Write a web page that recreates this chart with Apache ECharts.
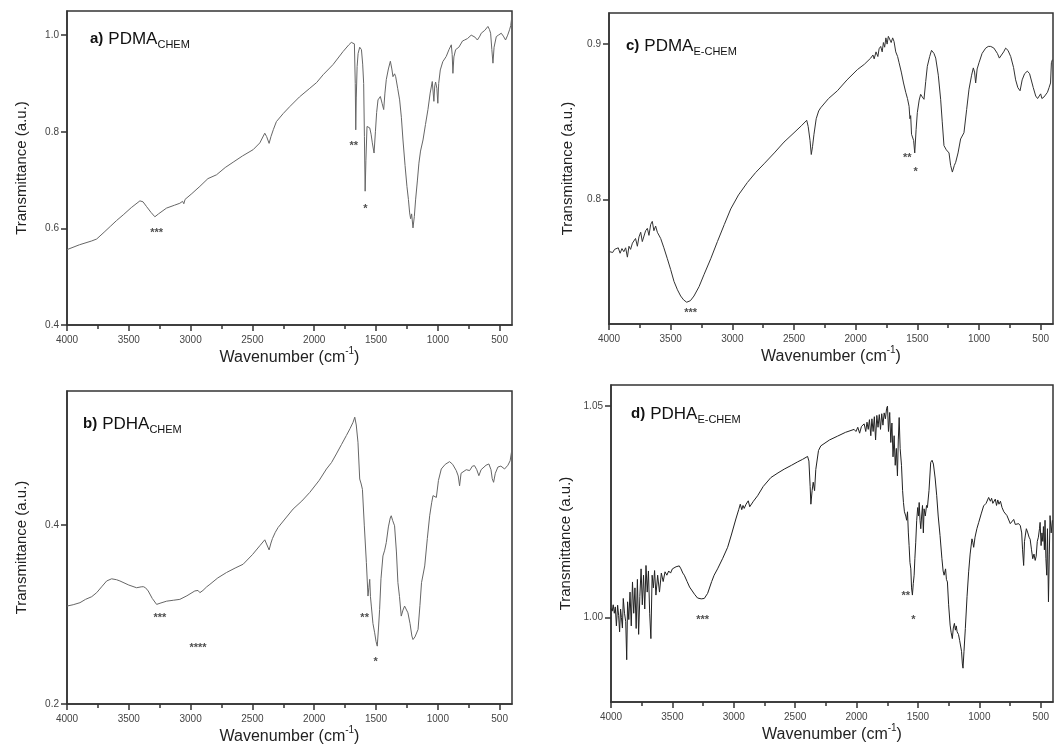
<!DOCTYPE html>
<html><head><meta charset="utf-8">
<script src="https://cdn.jsdelivr.net/npm/echarts@6/dist/echarts.min.js"></script>
<style>html,body{margin:0;padding:0;background:#fff}#c{width:1062px;height:752px}</style>
</head><body><div id="c"></div>
<script>
// ---------- tick values ----------
const xMajorTicks = [4000, 3500, 3000, 2500, 2000, 1500, 1000, 500];
const xMinorTicks = [3750, 3250, 2750, 2250, 1750, 1250, 750];
const aYTicks = [0.4, 0.6, 0.8, 1.0];
const bYTicks = [0.2, 0.4];
const cYTicks = [0.8, 0.9];
const dYTicks = [1.00, 1.05];

// ---------- panel a) PDMA CHEM ----------
const aWave = [4000,3900,3800,3760,3700,3650,3600,3545,3480,3410,3385,3356,3320,3289,3260,3195,3130,3087,3065,3055,3045,2990,2925,2860,2790,2720,2656,2580,2494,2440,2400,2385,2365,2350,2330,2306,2250,2198,2120,2036,1980,1928,1848,1767,1720,1700,1685,1675,1668,1664,1660,1653,1645,1632,1618,1608,1600,1594,1588,1582,1573,1560,1551,1540,1530,1516,1505,1495,1484,1465,1450,1438,1428,1417,1400,1384,1372,1363,1350,1341,1325,1309,1295,1282,1265,1250,1238,1228,1220,1212,1201,1190,1180,1165,1153,1140,1120,1100,1080,1062,1045,1040,1032,1025,1018,1008,1000,993,980,960,932,910,891,884,878,870,856,830,800,783,760,730,700,680,668,660,649,620,595,583,573,563,554,545,527,510,487,470,452,435,420,410,401];
const aTrans = [0.556,0.566,0.574,0.578,0.592,0.604,0.616,0.628,0.643,0.657,0.655,0.645,0.633,0.624,0.630,0.642,0.648,0.652,0.656,0.651,0.660,0.672,0.687,0.703,0.711,0.726,0.737,0.750,0.763,0.777,0.797,0.790,0.776,0.790,0.805,0.821,0.838,0.852,0.872,0.890,0.902,0.918,0.939,0.966,0.980,0.985,0.988,0.982,0.900,0.804,0.870,0.935,0.962,0.975,0.970,0.940,0.900,0.790,0.677,0.740,0.811,0.815,0.808,0.795,0.777,0.756,0.800,0.840,0.866,0.873,0.858,0.846,0.880,0.908,0.930,0.946,0.930,0.914,0.920,0.914,0.890,0.866,0.830,0.783,0.730,0.687,0.660,0.632,0.620,0.630,0.601,0.625,0.659,0.700,0.735,0.760,0.783,0.815,0.846,0.880,0.904,0.900,0.863,0.895,0.903,0.890,0.859,0.900,0.928,0.945,0.956,0.970,0.980,0.960,0.921,0.955,0.970,0.975,0.988,0.990,0.993,1.000,0.996,0.990,0.987,0.998,1.004,1.010,1.018,1.012,1.004,0.970,0.942,0.975,0.997,1.000,1.004,0.998,0.990,1.000,1.011,1.020,1.039];
const aNoteWave = [3275, 1680, 1586];
const aNoteTrans = [0.597, 0.777, 0.647];
const aNoteText = ['***', '**', '*'];

// ---------- panel b) PDHA CHEM ----------
const bWave = [4000,3950,3895,3850,3800,3760,3720,3679,3639,3600,3572,3500,3437,3400,3383,3365,3343,3310,3275,3240,3194,3140,3087,3030,2966,2940,2925,2900,2870,2844,2780,2710,2640,2575,2500,2440,2400,2385,2365,2350,2338,2315,2292,2230,2171,2100,2036,1960,1901,1860,1821,1780,1740,1710,1686,1672,1660,1646,1632,1620,1610,1595,1578,1565,1558,1551,1545,1538,1525,1511,1500,1490,1480,1471,1460,1444,1430,1417,1400,1385,1377,1365,1350,1335,1323,1310,1296,1282,1269,1255,1242,1225,1210,1201,1185,1160,1145,1132,1106,1085,1066,1050,1039,1025,1012,995,972,940,905,880,851,835,824,812,797,770,743,720,703,685,668,650,635,610,587,570,560,549,535,514,490,460,445,433,415,401];
const bTrans = [0.3095,0.311,0.3133,0.317,0.320,0.3245,0.331,0.3376,0.340,0.339,0.3376,0.333,0.330,0.331,0.3312,0.330,0.3264,0.318,0.3114,0.313,0.315,0.316,0.317,0.321,0.3264,0.327,0.3245,0.327,0.331,0.3338,0.341,0.347,0.352,0.3563,0.367,0.377,0.3836,0.382,0.3723,0.380,0.385,0.392,0.3974,0.408,0.418,0.427,0.4366,0.450,0.4628,0.470,0.4796,0.490,0.5002,0.508,0.515,0.5207,0.512,0.4927,0.4516,0.446,0.440,0.400,0.358,0.3207,0.330,0.3394,0.320,0.3095,0.290,0.2796,0.270,0.2647,0.285,0.3058,0.340,0.3656,0.372,0.3806,0.398,0.408,0.4105,0.405,0.3993,0.370,0.3357,0.320,0.2983,0.305,0.3095,0.308,0.302,0.290,0.276,0.2721,0.275,0.2834,0.310,0.3357,0.3544,0.385,0.4105,0.425,0.433,0.434,0.431,0.450,0.4628,0.468,0.471,0.468,0.461,0.455,0.444,0.458,0.460,0.462,0.461,0.466,0.4665,0.462,0.4553,0.462,0.464,0.467,0.4684,0.462,0.452,0.4479,0.458,0.465,0.466,0.4628,0.465,0.467,0.472,0.4845];
const bNoteWave = [3248, 2940, 1592, 1503];
const bNoteTrans = [0.300, 0.2665, 0.300, 0.250];
const bNoteText = ['***', '****', '**', '*'];

// ---------- panel c) PDMA E-CHEM ----------
const cWave = [4000,3985,3970,3955,3940,3925,3910,3895,3880,3865,3851,3838,3825,3810,3797,3785,3770,3757,3743,3730,3716,3703,3689,3676,3662,3649,3636,3622,3608,3595,3581,3555,3527,3500,3473,3445,3419,3395,3370,3340,3311,3270,3230,3175,3121,3065,3013,2950,2878,2810,2743,2660,2581,2500,2440,2397,2385,2370,2360,2350,2338,2320,2300,2284,2220,2148,2070,1986,1930,1878,1860,1850,1835,1820,1810,1797,1785,1775,1765,1755,1745,1735,1722,1712,1700,1689,1675,1660,1648,1630,1612,1594,1580,1567,1560,1554,1547,1540,1530,1521,1510,1500,1485,1473,1460,1446,1432,1419,1400,1385,1378,1365,1351,1330,1311,1298,1284,1265,1243,1230,1216,1200,1189,1170,1149,1122,1100,1081,1060,1046,1036,1027,1015,1000,975,946,925,905,880,851,835,819,800,784,765,743,720,703,685,667,650,630,608,590,581,560,540,525,513,500,490,473,460,445,432,420,413,405];
const cTrans = [0.7666,0.7672,0.7660,0.7680,0.7668,0.7690,0.7655,0.7685,0.7665,0.7690,0.7630,0.7700,0.7680,0.7720,0.7710,0.7750,0.7700,0.7760,0.7790,0.7730,0.7720,0.7800,0.7815,0.7770,0.7840,0.7860,0.7800,0.7830,0.7790,0.7780,0.7750,0.7690,0.7620,0.7550,0.7474,0.7420,0.7380,0.7355,0.7340,0.7350,0.7380,0.7440,0.7517,0.7620,0.7730,0.7840,0.7940,0.8030,0.8110,0.8175,0.8230,0.8300,0.8370,0.8430,0.8475,0.8510,0.8470,0.8380,0.8290,0.8340,0.8420,0.8520,0.8570,0.8590,0.8650,0.8700,0.8770,0.8836,0.8870,0.8910,0.8930,0.8905,0.8950,0.8920,0.8970,0.8985,0.8950,0.9010,0.8980,0.9040,0.9000,0.9050,0.9060,0.9010,0.9040,0.9017,0.8950,0.8920,0.8880,0.8820,0.8750,0.8690,0.8650,0.8600,0.8520,0.8540,0.8420,0.8410,0.8380,0.8300,0.8450,0.8560,0.8640,0.8677,0.8660,0.8645,0.8760,0.8857,0.8920,0.8960,0.8964,0.8940,0.8910,0.8800,0.8645,0.8500,0.8347,0.8320,0.8300,0.8220,0.8177,0.8220,0.8240,0.8300,0.8390,0.8430,0.8580,0.8710,0.8800,0.8847,0.8820,0.8750,0.8840,0.8880,0.8940,0.8974,0.8985,0.8985,0.8975,0.8940,0.8910,0.8900,0.8950,0.8974,0.8960,0.8920,0.8850,0.8770,0.8720,0.8700,0.8770,0.8810,0.8826,0.8810,0.8800,0.8720,0.8666,0.8650,0.8645,0.8680,0.8650,0.8660,0.8670,0.8690,0.8720,0.8750,0.8880,0.8900];
const cNoteWave = [3338, 1581, 1513];
const cNoteTrans = [0.729, 0.829, 0.8198];
const cNoteText = ['***', '**', '*'];

// ---------- panel d) PDHA E-CHEM ----------
const dWave = [4000,3990,3982,3973,3965,3956,3946,3938,3930,3922,3915,3907,3900,3890,3880,3872,3865,3855,3845,3835,3825,3815,3805,3795,3785,3775,3765,3755,3745,3735,3725,3715,3705,3695,3685,3675,3665,3655,3645,3634,3620,3605,3590,3575,3560,3545,3530,3515,3500,3485,3470,3455,3444,3430,3415,3403,3380,3360,3349,3320,3295,3265,3240,3213,3180,3160,3132,3090,3050,3020,2983,2960,2947,2935,2925,2915,2900,2882,2870,2861,2840,2806,2760,2698,2640,2589,2530,2481,2440,2399,2388,2378,2372,2362,2353,2342,2332,2310,2291,2220,2155,2090,2020,2005,1990,1975,1960,1950,1938,1925,1915,1905,1895,1884,1875,1865,1855,1845,1835,1825,1815,1805,1795,1785,1775,1765,1755,1748,1740,1730,1721,1712,1703,1694,1685,1676,1667,1660,1653,1645,1634,1625,1618,1610,1599,1592,1585,1578,1572,1565,1558,1552,1545,1538,1531,1525,1518,1510,1502,1495,1490,1483,1477,1470,1463,1456,1450,1440,1430,1423,1410,1396,1385,1374,1360,1347,1335,1320,1305,1295,1287,1275,1268,1260,1250,1238,1230,1220,1212,1203,1195,1188,1181,1170,1160,1154,1145,1138,1133,1125,1114,1100,1087,1075,1060,1053,1046,1035,1020,1005,985,965,945,924,910,900,890,883,870,860,850,840,828,815,800,790,775,760,748,734,720,707,695,680,666,655,648,639,632,625,617,605,595,586,575,565,555,545,537,528,519,510,505,497,490,483,478,470,465,458,451,445,437,430,424,415,405];
const dTrans = [1.0021,1.0015,1.0030,1.0010,1.0025,0.9980,1.0029,1.0005,0.9966,1.0020,1.0000,0.9975,1.0045,1.0010,0.9990,0.9900,1.0037,0.9995,1.0060,0.9980,1.0084,1.0010,1.0070,0.9974,1.0090,0.9960,1.0050,1.0115,1.0030,1.0100,1.0020,1.0123,1.0060,1.0110,1.0010,0.9950,1.0100,1.0070,1.0111,1.0053,1.0100,1.0060,1.0105,1.0085,1.0108,1.0100,1.0110,1.0105,1.0115,1.0112,1.0120,1.0121,1.0122,1.0115,1.0105,1.0100,1.0085,1.0072,1.0068,1.0055,1.0046,1.0044,1.0045,1.0057,1.0085,1.0100,1.0115,1.0140,1.0166,1.0195,1.0233,1.0255,1.0268,1.0255,1.0265,1.0258,1.0268,1.0276,1.0262,1.0260,1.0275,1.0288,1.0310,1.0331,1.0342,1.0351,1.0360,1.0368,1.0374,1.0381,1.0370,1.0310,1.0268,1.0300,1.0320,1.0300,1.0350,1.0395,1.0406,1.0420,1.0429,1.0438,1.0445,1.0440,1.0450,1.0436,1.0452,1.0448,1.0458,1.0440,1.0462,1.0445,1.0468,1.0430,1.0470,1.0440,1.0475,1.0420,1.0478,1.0450,1.0480,1.0445,1.0482,1.0455,1.0484,1.0470,1.0495,1.0500,1.0440,1.0485,1.0414,1.0460,1.0380,1.0430,1.0360,1.0400,1.0335,1.0420,1.0473,1.0400,1.0360,1.0300,1.0272,1.0250,1.0240,1.0230,1.0250,1.0200,1.0170,1.0130,1.0115,1.0070,1.0053,1.0080,1.0100,1.0140,1.0178,1.0230,1.0260,1.0240,1.0272,1.0230,1.0210,1.0240,1.0265,1.0200,1.0257,1.0240,1.0265,1.0260,1.0300,1.0367,1.0372,1.0363,1.0330,1.0288,1.0240,1.0194,1.0140,1.0110,1.0100,1.0115,1.0090,1.0084,1.0030,0.9982,0.9965,0.9950,0.9975,0.9986,0.9970,0.9980,0.9966,0.9960,0.9945,0.9943,0.9920,0.9890,0.9880,0.9920,0.9974,1.0050,1.0108,1.0150,1.0186,1.0178,1.0166,1.0190,1.0210,1.0225,1.0245,1.0264,1.0270,1.0284,1.0275,1.0282,1.0270,1.0272,1.0280,1.0265,1.0278,1.0268,1.0275,1.0260,1.0250,1.0246,1.0241,1.0238,1.0222,1.0225,1.0232,1.0220,1.0218,1.0222,1.0217,1.0200,1.0160,1.0123,1.0180,1.0195,1.0210,1.0200,1.0190,1.0185,1.0160,1.0139,1.0150,1.0135,1.0145,1.0180,1.0190,1.0210,1.0225,1.0170,1.0200,1.0180,1.0215,1.0160,1.0230,1.0140,1.0100,1.0210,1.0037,1.0150,1.0241,1.0200,1.0230];
const dNoteWave = [3254, 1599, 1537];
const dNoteTrans = [1.000, 1.0057, 1.000];
const dNoteText = ['***', '**', '*'];

// ---------- layout / styling ----------
const FONT = 'Liberation Sans, Arial, sans-serif';
const grids = [
  {left: 67, top: 11, width: 445, height: 314},   // a
  {left: 609, top: 13, width: 444, height: 311},  // c
  {left: 67, top: 391, width: 445, height: 313},  // b
  {left: 611, top: 385, width: 442, height: 317}  // d
];
const titlePos = [[90, 28], [626, 35], [83, 413], [631, 403]];
const panels = [
  {wave: aWave, trans: aTrans, nw: aNoteWave, nt: aNoteTrans, ntext: aNoteText, yMin: 0.4, yMax: 1.05, yTicks: aYTicks, dec: 1, color: '#666', label: 'a)', name: 'PDMA', sub: 'CHEM', nameGapY: 38},
  {wave: cWave, trans: cTrans, nw: cNoteWave, nt: cNoteTrans, ntext: cNoteText, yMin: 0.72, yMax: 0.92, yTicks: cYTicks, dec: 1, color: '#333', label: 'c)', name: 'PDMA', sub: 'E-CHEM', nameGapY: 34},
  {wave: bWave, trans: bTrans, nw: bNoteWave, nt: bNoteTrans, ntext: bNoteText, yMin: 0.2, yMax: 0.55, yTicks: bYTicks, dec: 1, color: '#666', label: 'b)', name: 'PDHA', sub: 'CHEM', nameGapY: 38},
  {wave: dWave, trans: dTrans, nw: dNoteWave, nt: dNoteTrans, ntext: dNoteText, yMin: 0.98, yMax: 1.055, yTicks: dYTicks, dec: 2, color: '#222', label: 'd)', name: 'PDHA', sub: 'E-CHEM', nameGapY: 38}
];

const option = {
  animation: false,
  backgroundColor: '#fff',
  textStyle: {fontFamily: FONT},
  grid: grids.map(g => Object.assign({show: true, borderColor: '#333', borderWidth: 1.5, backgroundColor: 'transparent'}, g)),
  xAxis: [], yAxis: [], series: [], title: []
};

panels.forEach((p, i) => {
  option.xAxis.push({
    type: 'value', gridIndex: i, min: 400, max: 4000, inverse: true, position: 'bottom',
    name: '{a|Wavenumber (cm}{s|-1}{a|)}', nameLocation: 'middle', nameGap: 20,
    nameTextStyle: {rich: {a: {fontSize: 16, color: '#222', fontFamily: FONT, lineHeight: 20, verticalAlign: 'bottom'},
                           s: {fontSize: 10, color: '#222', fontFamily: FONT, lineHeight: 10, verticalAlign: 'top'}}},
    axisLine: {show: true, lineStyle: {color: '#333', width: 1.5}},
    axisTick: {show: true, customValues: xMajorTicks, length: 6, lineStyle: {color: '#333', width: 1.5}},
    axisLabel: {show: true, customValues: xMajorTicks, fontSize: 10, color: '#444', margin: 10, fontFamily: FONT,
                formatter: v => String(Math.round(v))},
    splitLine: {show: false}
  });
  option.yAxis.push({
    type: 'value', gridIndex: i, min: p.yMin, max: p.yMax,
    name: 'Transmittance (a.u.)', nameLocation: 'middle', nameGap: p.nameGapY, nameRotate: 90,
    nameTextStyle: {fontSize: 15, color: '#222', fontFamily: FONT},
    axisLine: {show: true, lineStyle: {color: '#333', width: 1.5}},
    axisTick: {show: true, customValues: p.yTicks, length: 6, lineStyle: {color: '#333', width: 1.5}},
    axisLabel: {show: true, customValues: p.yTicks, fontSize: 10, color: '#444', margin: 8, fontFamily: FONT,
                formatter: v => Number(v).toFixed(p.dec)},
    splitLine: {show: false}
  });
  option.series.push({
    type: 'line', xAxisIndex: i, yAxisIndex: i, showSymbol: false, symbol: 'none',
    lineStyle: {color: p.color, width: 1}, silent: true,
    data: p.wave.map((w, k) => [w, p.trans[k]])
  });
  option.series.push({
    type: 'scatter', xAxisIndex: i, yAxisIndex: i, symbolSize: 1, itemStyle: {color: 'rgba(0,0,0,0)'}, silent: true,
    label: {show: true, position: 'inside', formatter: q => q.name, fontSize: 11, fontWeight: 'bold', color: '#222', offset: [0, 3], fontFamily: FONT},
    data: p.nw.map((w, k) => ({name: p.ntext[k], value: [w, p.nt[k]]}))
  });
  option.title.push({
    text: '{b|' + p.label + '} {n|' + p.name + '}{s|' + p.sub + '}',
    left: titlePos[i][0], top: titlePos[i][1], padding: 0,
    textStyle: {fontWeight: 'normal', rich: {
      b: {fontSize: 15, fontWeight: 'bold', color: '#111', fontFamily: FONT, lineHeight: 22, verticalAlign: 'middle'},
      n: {fontSize: 17, fontWeight: 'normal', color: '#111', fontFamily: FONT, lineHeight: 22, verticalAlign: 'middle'},
      s: {fontSize: 11, fontWeight: 'normal', color: '#111', fontFamily: FONT, lineHeight: 10, verticalAlign: 'bottom'}
    }}
  });
});

// minor x ticks (second axis per grid, ticks only)
panels.forEach((p, i) => {
  option.xAxis.push({
    type: 'value', gridIndex: i, min: 400, max: 4000, inverse: true, position: 'bottom',
    axisLine: {show: false}, axisLabel: {show: false}, splitLine: {show: false},
    axisTick: {show: true, customValues: xMinorTicks, length: 4, lineStyle: {color: '#333', width: 1.5}}
  });
});

const chart = echarts.init(document.getElementById('c'), null, {renderer: 'canvas'});
chart.setOption(option);
</script>
</body></html>
